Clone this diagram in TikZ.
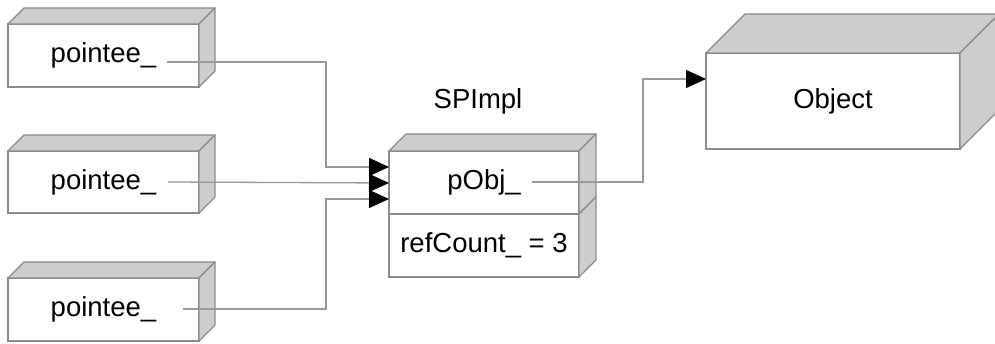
\documentclass[tikz,border=0pt]{standalone}
\usepackage{fontspec}
\setmainfont{Liberation Sans}
\usetikzlibrary{arrows.meta,calc}
\definecolor{edgegray}{HTML}{8C8C8C}
\definecolor{linegray}{HTML}{999999}
\definecolor{facegray}{HTML}{CDCDCD}
\tikzset{
  front/.style={draw=edgegray, fill=white, line width=1.3pt, inner sep=0pt, outer sep=0pt,
    minimum width=191pt, minimum height=63pt, font=\fontsize{27.5}{33}\selectfont},
  face/.style={draw=edgegray, fill=facegray, line width=1.3pt, line join=round},
  conn/.style={draw=linegray, line width=1.3pt},
  arr/.style={conn, -{Triangle[length=20pt,width=18pt,color=black]}},
  lbl/.style={font=\fontsize{27.5}{33}\selectfont}
}
% top face and side face of a front node
\newcommand\topface[2]{\filldraw[face] (#1.north west) -- ++(#2,-#2) -- ($(#1.north east)+(#2pt,#2pt)$) -- (#1.north east) -- cycle;}
\newcommand\sideface[2]{\filldraw[face] (#1.north east) -- ++(#2,-#2) -- ($(#1.south east)+(#2pt,#2pt)$) -- (#1.south east) -- cycle;}
\begin{document}
\begin{tikzpicture}[x=1pt,y=-1pt]
\clip (0,0) rectangle (995,344);
\fill[white] (0,0) rectangle (995,344);

% pointee boxes
\node[front] (p1) at (103.5,55.5) {pointee\_};
\node[front, minimum height=62pt] (p2) at (103.5,182) {pointee\_};
\node[front] (p3) at (103.5,309.5) {pointee\_};
\topface{p1}{16}\sideface{p1}{16}
\topface{p2}{16}\sideface{p2}{16}
\topface{p3}{16}\sideface{p3}{16}

% SPImpl
\node[lbl] (splabel) at (478,101) {SPImpl};
\node[front, minimum width=190pt] (pobj) at (484,182.5) {pObj\_};
\node[front, minimum width=190pt] (refc) at (484,245.5) {refCount\_ = 3};
\topface{pobj}{17}\sideface{pobj}{17}\sideface{refc}{17}

% Object
\node[front, minimum width=254pt, minimum height=96pt] (obj) at (833,101) {Object};
\topface{obj}{39}\sideface{obj}{39}

% connector start points
\coordinate (s1) at (167,62);
\coordinate (s2) at (168,182);
\coordinate (s3) at (183,309);
\coordinate (s4) at (532,182);

\draw[arr] (s1) -- ++(159,0) |- ([yshift=15.5pt]pobj.west);
\draw[arr] (s2) -- ([yshift=-0.5pt]pobj.west);
\draw[arr] (s3) -- ++(143,0) |- ([yshift=-16.5pt]pobj.west);
\draw[arr] (s4) -- ++(111,0) |- ([yshift=22pt]obj.west);
\end{tikzpicture}
\end{document}
